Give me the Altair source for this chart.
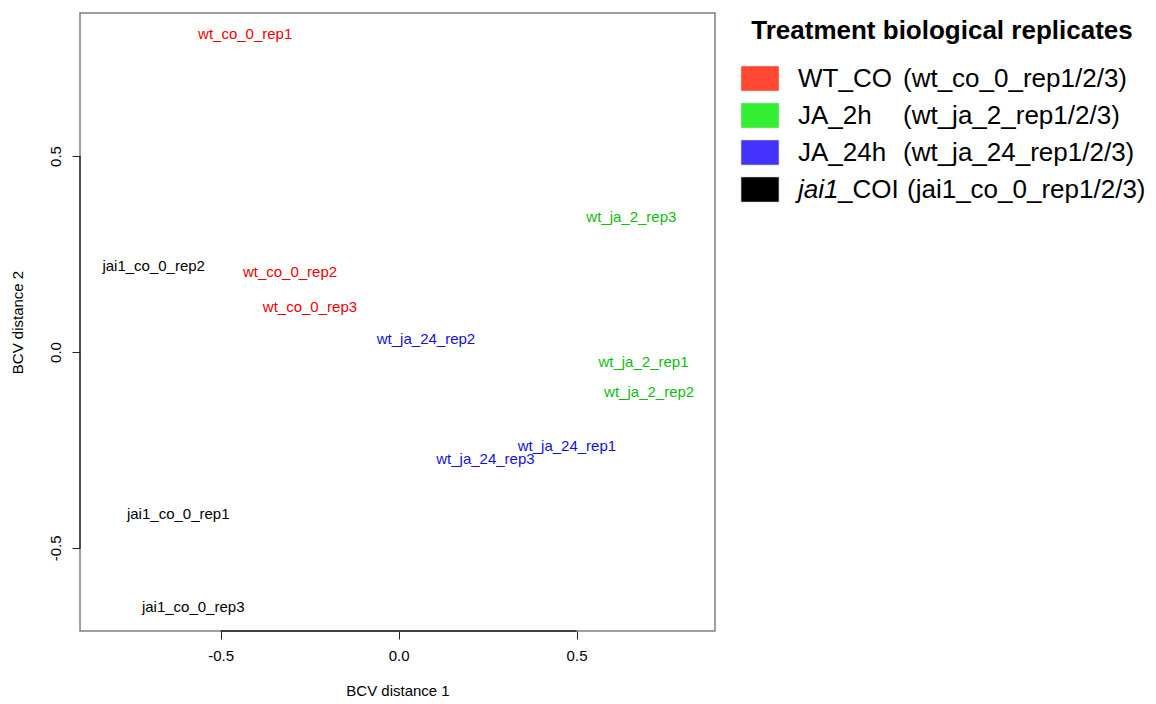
import altair as alt
import pandas as pd

# ---- data ----
labels = ["wt_co_0_rep1", "wt_co_0_rep2", "wt_co_0_rep3",
          "wt_ja_2_rep1", "wt_ja_2_rep2", "wt_ja_2_rep3",
          "wt_ja_24_rep1", "wt_ja_24_rep2", "wt_ja_24_rep3",
          "jai1_co_0_rep1", "jai1_co_0_rep2", "jai1_co_0_rep3"]
bcv1 = [-0.431, -0.305, -0.249,
        0.688, 0.704, 0.654,
        0.473, 0.077, 0.244,
        -0.619, -0.688, -0.577]
bcv2 = [0.811, 0.204, 0.115,
        -0.026, -0.102, 0.344,
        -0.240, 0.033, -0.273,
        -0.413, 0.219, -0.651]
groups = ["WT_CO"] * 3 + ["JA_2h"] * 3 + ["JA_24h"] * 3 + ["jai1_COI"] * 3

group_order = ["WT_CO", "JA_2h", "JA_24h", "jai1_COI"]
text_colors = ["#EE0000", "#11BB11", "#1111DD", "#000000"]
swatch_colors = ["#FF4733", "#33F033", "#4433FF", "#000000"]
legend_names = ["WT_CO", "JA_2h", "JA_24h", "jai1"]
legend_suffix = ["", "", "", "_COI"]
legend_desc = ["(wt_co_0_rep1/2/3)", "(wt_ja_2_rep1/2/3)",
               "(wt_ja_24_rep1/2/3)", "(jai1_co_0_rep1/2/3)"]
legend_title = ["Treatment biological replicates"]

tick_values = [-0.5, 0.0, 0.5]
x_domain = [-0.895, 0.889]
y_domain = [-0.712, 0.865]

FONT = "Liberation Sans"
HYPHEN = "replace(format(datum.value, '.1f'), '\u2212', '-')"

df = pd.DataFrame({"x": bcv1, "y": bcv2, "label": labels, "group": groups})

xscale = alt.Scale(domain=x_domain, nice=False, zero=False)
yscale = alt.Scale(domain=y_domain, nice=False, zero=False)

points = alt.Chart(df).mark_text(fontSize=15, font=FONT).encode(
    x=alt.X("x:Q", scale=xscale,
            axis=alt.Axis(values=tick_values, labelExpr=HYPHEN, title="BCV distance 1",
                          labelPadding=9, titlePadding=20)),
    y=alt.Y("y:Q", scale=yscale,
            axis=alt.Axis(values=tick_values, labelExpr=HYPHEN, title="BCV distance 2",
                          labelAngle=270, labelPadding=9, titlePadding=23)),
    text="label:N",
    color=alt.Color("group:N", scale=alt.Scale(domain=group_order, range=text_colors),
                    legend=None),
)

tick_df = pd.DataFrame({"lo": [min(tick_values)], "hi": [max(tick_values)]})
xline = alt.Chart(tick_df).mark_rule(color="#222", strokeWidth=1.3).encode(
    x=alt.X("lo:Q", scale=xscale), x2="hi:Q", y=alt.value(618))
yline = alt.Chart(tick_df).mark_rule(color="#222", strokeWidth=1.3).encode(
    y=alt.Y("lo:Q", scale=yscale), y2="hi:Q", x=alt.value(0))

plot = alt.layer(points, xline, yline).properties(width=635, height=618)

# ---- legend panel ----
leg = pd.DataFrame({"key": group_order, "name": legend_names,
                    "suffix": legend_suffix, "desc": legend_desc})
ly = alt.Y("key:N", sort=group_order, axis=None,
           scale=alt.Scale(domain=group_order, range=[47, 195],
                           paddingInner=0.32, paddingOuter=0.16))

sw = alt.Chart(leg).mark_rect(stroke="#dddddd", strokeWidth=0.6).encode(
    y=ly, x=alt.value(0), x2=alt.value(38),
    color=alt.Color("key:N", scale=alt.Scale(domain=group_order, range=swatch_colors),
                    legend=None))
names = alt.Chart(leg).transform_filter(alt.datum.suffix == "").mark_text(
    fontSize=26, font=FONT, align="left", color="black").encode(
    y=ly, x=alt.value(57), text="name:N")
italic = alt.Chart(leg).transform_filter(alt.datum.suffix != "").mark_text(
    fontSize=26, font=FONT, align="left", fontStyle="italic", color="black").encode(
    y=ly, x=alt.value(57), text="name:N")
suffix = alt.Chart(leg).transform_filter(alt.datum.suffix != "").mark_text(
    fontSize=26, font=FONT, align="left", color="black").encode(
    y=ly, x=alt.value(97), text="suffix:N")
desc = alt.Chart(leg).transform_filter(alt.datum.suffix == "").mark_text(
    fontSize=26, font=FONT, align="left", color="black").encode(
    y=ly, x=alt.value(162), text="desc:N")
desc2 = alt.Chart(leg).transform_filter(alt.datum.suffix != "").mark_text(
    fontSize=26, font=FONT, align="left", color="black").encode(
    y=ly, x=alt.value(166), text="desc:N")
title = alt.Chart(pd.DataFrame({"t": legend_title})).mark_text(
    fontSize=26, font=FONT, fontWeight="bold", align="center", baseline="middle",
    color="black").encode(x=alt.value(201), y=alt.value(18), text="t:N")

legend = alt.layer(title, sw, names, italic, suffix, desc, desc2).properties(
    width=402, height=200,
    view=alt.ViewBackground(stroke="transparent"))

chart = alt.hconcat(plot, legend, spacing=23).resolve_scale(
    color="independent"
).properties(
    padding={"left": 9, "top": 12, "right": 0, "bottom": 0}
).configure_view(
    stroke="#808080", strokeWidth=1.5
).configure_axis(
    domain=False, grid=False, ticks=True, tickSize=8, tickColor="#222",
    labelFont=FONT, titleFont=FONT, labelFontSize=15, titleFontSize=15,
    titleFontWeight="normal", labelColor="black", titleColor="black",
)

chart.save("out.html", embed_options={"renderer": "svg", "actions": False})
